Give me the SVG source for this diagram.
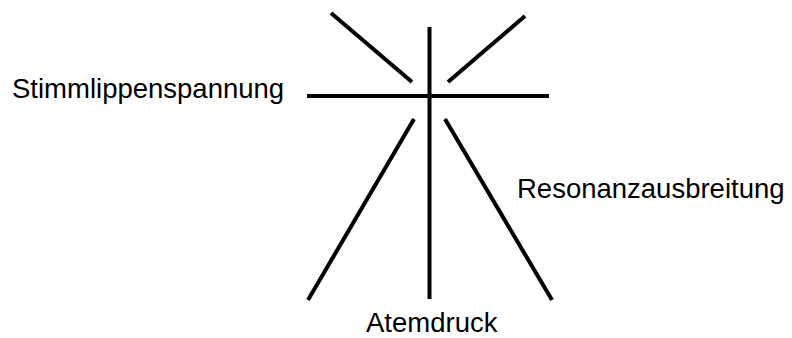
<svg xmlns="http://www.w3.org/2000/svg" width="792" height="338" viewBox="0 0 792 338">
<style>
.l{stroke:#000;stroke-width:4;fill:none}
.t{font-family:"Liberation Sans",Arial,sans-serif;font-size:27.5px;fill:#000}
</style>
<rect width="792" height="338" fill="#fff"/>
<g id="connectors">
<line class="l" x1="331" y1="13" x2="412" y2="82"/>
<line class="l" x1="525" y1="16" x2="448" y2="82"/>
<line class="l" x1="429.5" y1="27" x2="429.5" y2="299"/>
<line class="l" x1="307" y1="96" x2="549" y2="96"/>
<line class="l" x1="414" y1="119" x2="308" y2="300"/>
<line class="l" x1="445" y1="119" x2="552" y2="300"/>
</g>
<g id="stimmlippenspannung"><text class="t" x="12" y="98">Stimmlippenspannung</text></g>
<g id="resonanzausbreitung"><text class="t" x="517" y="198">Resonanzausbreitung</text></g>
<g id="atemdruck"><text class="t" x="366" y="332">Atemdruck</text></g>
</svg>
